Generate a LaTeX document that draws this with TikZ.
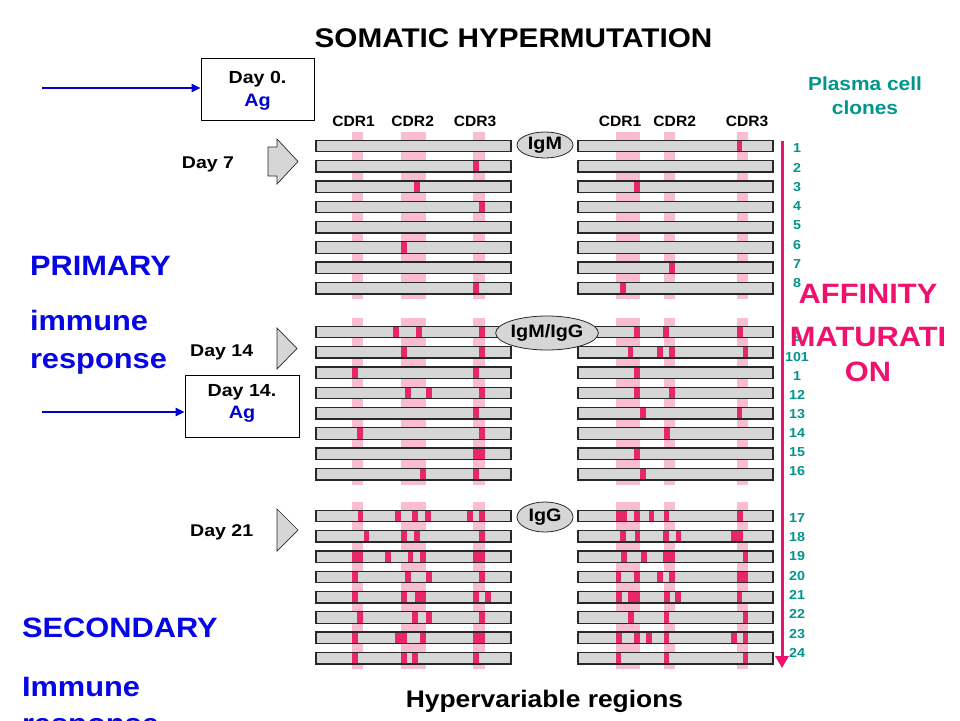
\documentclass[tikz,border=0pt]{standalone}
\usepackage{fontspec}
\setmainfont{Liberation Sans}
\usepackage{graphicx}
\usetikzlibrary{arrows.meta,shapes.geometric}
\definecolor{bandpink}{RGB}{250,188,208}
\definecolor{mutred}{RGB}{232,40,102}
\definecolor{barfill}{RGB}{214,214,214}
\definecolor{barline}{RGB}{40,40,40}
\definecolor{blueT}{RGB}{5,5,230}
\definecolor{blueA}{RGB}{0,0,205}
\definecolor{pinkT}{RGB}{240,16,110}
\definecolor{tealT}{RGB}{0,150,140}
\newcommand{\sx}[1]{\scalebox{1.1}[1]{#1}}
\newcommand{\fs}[1]{\fontsize{#1}{#1}\selectfont\bfseries}
\begin{document}
\begin{tikzpicture}[x=1pt,y=-1pt,
  txt/.style={inner sep=0pt,outer sep=0pt,anchor=base},
  txtw/.style={inner sep=0pt,outer sep=0pt,anchor=base west},
  band/.style={fill=bandpink},
  mut/.style={fill=mutred},
  barbox/.style={draw=barline,line width=1.3pt},
  igell/.style={ellipse,draw=barline,line width=0.8pt,fill=barfill,inner sep=0pt},
  garrow/.style={draw=barline,line width=0.7pt,fill=barfill},
  agbox/.style={draw=black,line width=0.9pt,fill=white,inner sep=0pt},
  bluearrow/.style={draw=blueA,line width=2.4pt,-{Triangle[length=9pt,width=8pt]}},
  pinkarrow/.style={draw=pinkT,line width=3pt,-{Triangle[length=12pt,width=13pt]}}]
\useasboundingbox (0,0) rectangle (960,720);
\clip (0,0) rectangle (960,720);
\fill[white] (0,0) rectangle (960,720);

% title
\node[txt] (title) at (513.5,47) {\fs{27}\sx{SOMATIC HYPERMUTATION}};

% CDR labels
\foreach \cx/\lab in {353.5/CDR1,412.7/CDR2,475/CDR3,620/CDR1,674.7/CDR2,747/CDR3}
  \node[txt] at (\cx,126) {\fs{15}\scalebox{1.04}[1]{\lab}};

% pink bands
\foreach \B in {146,332,516}{
  \foreach \a/\b in {352/363,401/426,473/485,616/640,664/675,737/748}
    \fill[band] (\a,\B-14) rectangle (\b,\B+152.6);
}
% bar fills
\foreach \B in {146,332,516}{
  \foreach \i in {0,...,7}{
    \fill[barfill] (316,\B+\i*20.3-5.75) rectangle (511,\B+\i*20.3+5.75);
    \fill[barfill] (578,\B+\i*20.3-5.75) rectangle (773,\B+\i*20.3+5.75);
  }
}
% mutations group 1
\foreach \r/\a/\b in {2/473/479,3/414/420,4/479/485,6/401/407,8/473/479,
  1/737/742,3/634/640,7/669/675,8/620/626}
  \fill[mut] (\a,146+\r*20.3-20.3-5.75) rectangle (\b,146+\r*20.3-20.3+5.75);
% mutations group 2
\foreach \r/\a/\b in {1/393/399,1/416/422,1/479/485,2/401/407,2/479/485,
  3/352/358,3/473/479,4/405/411,4/426/432,4/479/485,5/473/479,
  6/357/363,6/479/485,7/473/485,8/420/426,8/473/479,
  1/634/640,1/663/669,1/737/743,2/628/633,2/657/663,2/669/675,2/743/748,
  3/634/640,4/634/640,4/669/675,5/640/646,5/737/742,6/664/670,7/634/640,8/640/646}
  \fill[mut] (\a,332+\r*20.3-20.3-5.75) rectangle (\b,332+\r*20.3-20.3+5.75);
% mutations group 3
\foreach \r/\a/\b in {1/358/363,1/395/401,1/412/418,1/425/431,1/467/473,1/479/485,
  2/364/369,2/401/407,2/414/420,2/479/485,
  3/352/363,3/385/391,3/408/413,3/420/426,3/473/485,
  4/352/358,4/405/411,4/426/432,4/479/485,
  5/352/358,5/401/407,5/415/426,5/473/479,5/485/491,
  6/357/363,6/412/418,6/426/432,6/479/485,
  7/352/358,7/395/407,7/420/426,7/473/485,
  8/352/358,8/401/407,8/412/418,8/473/479,
  1/616/627,1/634/640,1/649/654,1/664/669,1/737/743,
  2/620/626,2/635/640,2/663/669,2/676/681,2/731/743,
  3/621/627,3/641/647,3/663/675,3/743/748,
  4/616/621,4/634/640,4/657/663,4/669/675,4/737/748,
  5/616/622,5/628/640,5/664/670,5/675/681,5/737/742,
  6/628/634,6/664/669,6/743/748,
  7/616/622,7/634/640,7/646/652,7/664/669,7/731/737,7/743/748,
  8/616/621,8/664/669,8/743/748}
  \fill[mut] (\a,516+\r*20.3-20.3-5.75) rectangle (\b,516+\r*20.3-20.3+5.75);
% bar outlines
\foreach \B in {146,332,516}{
  \foreach \i in {0,...,7}{
    \draw[barbox] (316,\B+\i*20.3-5.75) rectangle (511,\B+\i*20.3+5.75);
    \draw[barbox] (578,\B+\i*20.3-5.75) rectangle (773,\B+\i*20.3+5.75);
  }
}

% isotype ellipses
\node[igell,minimum width=56pt,minimum height=26pt] (igm) at (545,145) {\fs{18}\sx{IgM}};
\node[igell,minimum width=90pt,minimum height=34pt] (igmg) at (547,333) {\fs{18}\sx{IgM/IgG}};
\node[igell,minimum width=56pt,minimum height=30pt] (igg) at (545,517) {\fs{18}\sx{IgG}};

% gray block arrows
\draw[garrow] (268,147) -- (277,147) -- (277,139) -- (298,161.5) -- (277,184) -- (277,176) -- (268,176) -- cycle;
\draw[garrow] (277,328) -- (297,348.5) -- (277,369) -- cycle;
\draw[garrow] (277,509) -- (298,530) -- (277,551) -- cycle;

% day labels
\node[txt] (d7) at (208,168.3) {\fs{17}\scalebox{1.15}[1]{Day 7}};
\node[txt] (d14) at (221.7,356) {\fs{17}\scalebox{1.15}[1]{Day 14}};
\node[txt] (d21) at (221.7,536.7) {\fs{17}\scalebox{1.15}[1]{Day 21}};

% antigen boxes
\node[agbox,minimum width=113pt,minimum height=62pt] (ag0) at (257.5,89) {};
\node[txt] (ag0a) at (ag0.center |- 0,83.3) {\fs{17.5}\scalebox{1.12}[1]{Day 0.}};
\node[txt,text=blueA] (ag0b) at (ag0.center |- 0,106.5) {\fs{18}\scalebox{1.1}[1]{Ag}};
\node[agbox,minimum width=114pt,minimum height=62pt] (ag14) at (242,406) {};
\node[txt] (ag14a) at (ag14.center |- 0,396) {\fs{17.5}\scalebox{1.12}[1]{Day 14.}};
\node[txt,text=blueA] (ag14b) at (ag14.center |- 0,418.5) {\fs{18}\scalebox{1.1}[1]{Ag}};

% blue antigen arrows
\coordinate (s0) at (42,88);
\coordinate (s14) at (42,412);
\draw[bluearrow] (s0) -- (s0 -| ag0.west);
\draw[bluearrow] (s14) -- (s14 -| ag14.west);

% left blue labels
\node[txtw,text=blueT] (prim) at (30,275) {\fs{28}\sx{PRIMARY}};
\node[txtw,text=blueT] (imm1) at (30,330.7) {\fs{28}\sx{immune}};
\node[txtw,text=blueT] (resp1) at (30,368.3) {\fs{28}\sx{response}};
\node[txtw,text=blueT] (sec) at (22,637.3) {\fs{28}\sx{SECONDARY}};
\node[txtw,text=blueT] (imm2) at (22,696.7) {\fs{28}\sx{Immune}};
\node[txtw,text=blueT] (resp2) at (22,733.5) {\fs{28}\sx{response}};

% plasma cell clones
\node[txt,text=tealT] (pc1) at (865,90.7) {\fs{19}\sx{Plasma cell}};
\node[txt,text=tealT] (pc2) at (865,114.5) {\fs{19}\sx{clones}};

% numbers
\foreach \y/\n in {148/1,167.3/2,186.6/3,205.9/4,225.2/5,244.5/6,263.8/7,282.5/8,
  337/9,356.5/101,375.5/1,394.5/12,413.5/13,433/14,452/15,471/16,
  518/17,537/18,556/19,576/20,595/21,614/22,634/23,653/24}
  \node[txt,text=tealT] at (797,\y+4.7) {\fs{13}\sx{\n}};

% affinity maturation arrow
\coordinate (am0) at (782,141);
\coordinate (am1) at (782,668);
\draw[pinkarrow] (am0) -- (am1);
\node[txt,text=pinkT] (aff1) at (868,303.3) {\fs{28}\sx{AFFINITY}};
\node[txt,text=pinkT] (aff2) at (868,346.7) {\fs{28}\sx{MATURATI}};
\node[txt,text=pinkT] (aff3) at (868,381.7) {\fs{28}\sx{ON}};

% bottom label
\node[txt] (hv) at (544.5,707) {\fs{24}\sx{Hypervariable regions}};
\end{tikzpicture}
\end{document}
